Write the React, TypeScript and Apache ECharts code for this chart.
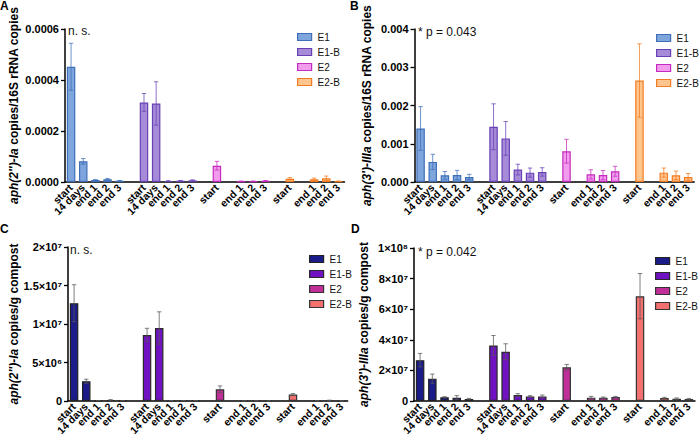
import React, { useEffect, useRef } from "react";
import * as echarts from "echarts";

const timepoints = ["start", "14 days", "end 1", "end 2", "end 3"];
const groups = ["E1", "E1-B", "E2", "E2-B"];

// Panel A: aph(2'')-Ia copies / 16S rRNA copies
const aE1Mean = [0.000452, 0.000081, 0.000008, 0.000011, 0.000005];
const aE1Sd = [0.000092, 0.000011, 0.000002, 0.000003, 0.000001];
const aE1BMean = [0.000312, 0.000308, 0.000004, 0.000005, 0.0000065];
const aE1BSd = [0.000035, 0.000085, 0.000001, 0.000001, 0.000002];
const aE2Mean = [0.000064, null, 0.000003, 0.000003, 0.000005];
const aE2Sd = [0.000017, null, 0.000001, 0.000001, 0.000001];
const aE2BMean = [0.000013, null, 0.0000105, 0.0000144, 0.000003];
const aE2BSd = [0.000004, null, 0.000005, 0.000009, 0.000001];

// Panel B: aph(3')-IIIa copies / 16S rRNA copies
const bE1Mean = [0.0014, 0.000525, 0.000175, 0.000184, 0.000131];
const bE1Sd = [0.00057, 0.0002, 0.0001, 0.00012, 0.00007];
const bE1BMean = [0.001444, 0.00114, 0.000324, 0.000245, 0.000263];
const bE1BSd = [0.0006, 0.00044, 0.00014, 0.00012, 0.00011];
const bE2Mean = [0.000805, null, 0.0002, 0.00018, 0.00028];
const bE2Sd = [0.00031, null, 0.00012, 0.00012, 0.00013];
const bE2BMean = [0.002652, null, 0.000245, 0.000175, 0.000131];
const bE2BSd = [0.00096, null, 0.00012, 0.00011, 0.00009];

// Panel C: aph(2'')-Ia copies / g compost
const cE1Mean = [1.27e7, 2.57e6, 4e4, 1.3e5, 4e4];
const cE1Sd = [2.4e6, 2.6e5, 1e4, 5e4, 1e4];
const cE1BMean = [8.57e6, 9.48e6, 5e4, 5e4, 5e4];
const cE1BSd = [8.7e5, 2.1e6, 1e4, 1e4, 1e4];
const cE2Mean = [1.52e6, null, 2e4, 2e4, 2e4];
const cE2Sd = [4.4e5, null, 1e4, 1e4, 1e4];
const cE2BMean = [8.3e5, null, 3e4, 7e4, 2e4];
const cE2BSd = [1.3e5, null, 1e4, 4e4, 1e4];

// Panel D: aph(3')-IIIa copies / g compost
const dE1Mean = [2.67e7, 1.46e7, 2.4e6, 2.2e6, 1.3e6];
const dE1Sd = [4.4e6, 3e6, 4e5, 1.3e6, 4e5];
const dE1BMean = [3.63e7, 3.22e7, 3.9e6, 3.0e6, 3.0e6];
const dE1BSd = [6.5e6, 5.2e6, 9e5, 5e5, 9e5];
const dE2Mean = [2.2e7, null, 2.2e6, 2.2e6, 2.6e6];
const dE2Sd = [1.9e6, null, 8e5, 4e5, 4e5];
const dE2BMean = [6.85e7, null, 2e6, 1.5e6, 1.3e6];
const dE2BSd = [1.48e7, null, 4e5, 5e5, 4e5];

const FONT = "'Liberation Sans', Arial, sans-serif";

const lightFill = ["#7EA6DD", "#A68BD9", "#F29CEE", "#FFC58F"];
const lightBorder = ["#3F6FB8", "#6A41B5", "#C52BBE", "#F47B20"];
const darkFill = ["#1B1B8A", "#7012C2", "#C02E98", "#F2716E"];
const darkBorder = ["#222222", "#2a2a2a", "#333333", "#333333"];

const SUP: Record<string, string> = { "0": "⁰", "1": "¹", "2": "²", "3": "³", "4": "⁴", "5": "⁵", "6": "⁶", "7": "⁷", "8": "⁸", "9": "⁹" };
function sci(v: number): string {
  if (v === 0) return "0";
  let e = Math.floor(Math.log10(v) + 1e-9);
  let m = Math.round((v / Math.pow(10, e)) * 10) / 10;
  return `${m}×10${String(e).split("").map((c) => SUP[c]).join("")}`;
}

type Panel = {
  means: (number | null)[][];
  sds: (number | null)[][];
  fill: string[];
  border: string[];
  errColor: string;
  max: number;
  interval: number;
  fmt: (v: number) => string;
  gene: string;
  unit: string;
  grid: { left: number; top: number; width: number; height: number };
  nameGap: number;
  legend: { left: number; top: number };
  note: string;
  noteX: number;
  noteY: number;
  letter: string;
  letterX: number;
  letterY: number;
};

const panels: Panel[] = [
  {
    means: [aE1Mean, aE1BMean, aE2Mean, aE2BMean],
    sds: [aE1Sd, aE1BSd, aE2Sd, aE2BSd],
    fill: lightFill, border: lightBorder, errColor: "",
    max: 0.0006, interval: 0.0002, fmt: (v) => v.toFixed(4),
    gene: "aph(2'')-Ia", unit: "copies/16S rRNA copies",
    grid: { left: 65, top: 29, width: 279.5, height: 153 }, nameGap: 45,
    legend: { left: 292, top: 26 },
    note: "n. s.", noteX: 68, noteY: 32, letter: "A", letterX: 0, letterY: 0,
  },
  {
    means: [bE1Mean, bE1BMean, bE2Mean, bE2BMean],
    sds: [bE1Sd, bE1BSd, bE2Sd, bE2BSd],
    fill: lightFill, border: lightBorder, errColor: "",
    max: 0.004, interval: 0.001, fmt: (v) => v.toFixed(3),
    gene: "aph(3')-IIIa", unit: "copies/16S rRNA copies",
    grid: { left: 414.5, top: 29, width: 279.7, height: 153 }, nameGap: 42,
    legend: { left: 651, top: 27 },
    note: "* p = 0.043", noteX: 418, noteY: 33, letter: "B", letterX: 350, letterY: 0,
  },
  {
    means: [cE1Mean, cE1BMean, cE2Mean, cE2BMean],
    sds: [cE1Sd, cE1BSd, cE2Sd, cE2BSd],
    fill: darkFill, border: darkBorder, errColor: "#555555",
    max: 2e7, interval: 5e6, fmt: sci,
    gene: "aph(2'')-Ia", unit: "copies/g compost",
    grid: { left: 68, top: 247, width: 279.7, height: 154 }, nameGap: 47,
    legend: { left: 304, top: 248 },
    note: "n. s.", noteX: 70, noteY: 251, letter: "C", letterX: 0, letterY: 223,
  },
  {
    means: [dE1Mean, dE1BMean, dE2Mean, dE2BMean],
    sds: [dE1Sd, dE1BSd, dE2Sd, dE2BSd],
    fill: darkFill, border: darkBorder, errColor: "#555555",
    max: 1e8, interval: 2e7, fmt: sci,
    gene: "aph(3')-IIIa", unit: "copies/g compost",
    grid: { left: 414, top: 248, width: 281, height: 153 }, nameGap: 44,
    legend: { left: 650, top: 250 },
    note: "* p = 0.042", noteX: 418, noteY: 253, letter: "D", letterX: 351, letterY: 223,
  },
];

function buildSlots(means: (number | null)[][]) {
  const labels: string[] = [];
  const slotOf: number[][] = [];
  groups.forEach((_, gi) => {
    slotOf.push([]);
    timepoints.forEach((t, ti) => {
      slotOf[gi].push(labels.length);
      labels.push(means[gi][ti] == null ? "" : t);
    });
    if (gi < groups.length - 1) labels.push("");
  });
  return { labels, slotOf };
}

export default function App() {
  const ref = useRef<HTMLDivElement>(null);
  useEffect(() => {
    if (!ref.current) return;
    const chart = echarts.init(ref.current, undefined, { renderer: "svg" });
    const grids: any[] = [];
    const xAxes: any[] = [];
    const yAxes: any[] = [];
    const series: any[] = [];
    const legends: any[] = [];
    const graphics: any[] = [];

    panels.forEach((p, pi) => {
      const { labels, slotOf } = buildSlots(p.means);
      const show = (i: number) => labels[i] !== "";
      grids.push({ ...p.grid, containLabel: false });
      xAxes.push({
        type: "category",
        gridIndex: pi,
        data: labels.map((_, i) => "s" + i),
        axisLine: { lineStyle: { color: "#000", width: 1.5 } },
        axisTick: { alignWithLabel: true, interval: (i: number) => show(i), length: 4, lineStyle: { color: "#000", width: 1.3 } },
        axisLabel: {
          interval: 0,
          formatter: (_v: string, i: number) => labels[i],
          hideOverlap: false,
          rotate: 45, fontSize: 10.5, fontWeight: "bold", color: "#000", fontFamily: FONT, margin: 4,
        },
        splitLine: { show: false },
      });
      yAxes.push({
        type: "value",
        gridIndex: pi,
        min: 0, max: p.max, interval: p.interval,
        axisLine: { show: true, lineStyle: { color: "#000", width: 1.5 } },
        axisTick: { show: true, length: 4, lineStyle: { color: "#000", width: 1.3 } },
        splitLine: { show: false },
        axisLabel: {
          formatter: (v: number) => p.fmt(v), showMinLabel: true, showMaxLabel: true,
          fontSize: 11, fontWeight: "bold", color: "#000", fontFamily: FONT, margin: 6,
        },
        name: `{i|${p.gene}} ${p.unit}`,
        nameLocation: "middle",
        nameGap: p.nameGap,
        nameTextStyle: {
          fontSize: 12, fontWeight: "bold", color: "#000", fontFamily: FONT,
          rich: { i: { fontSize: 12, fontWeight: "bold", fontStyle: "italic", color: "#000", fontFamily: FONT } },
        },
      });
      groups.forEach((g, gi) => {
        const data: any[] = labels.map(() => "-");
        const errData: any[] = [];
        p.means[gi].forEach((m, ti) => {
          if (m == null) return;
          data[slotOf[gi][ti]] = m;
          errData.push([slotOf[gi][ti], m, p.sds[gi][ti] ?? 0]);
        });
        series.push({
          type: "bar", name: g, xAxisIndex: pi, yAxisIndex: pi,
          barWidth: 8.5, barGap: "-100%", data,
          itemStyle: { color: p.fill[gi], borderColor: p.border[gi], borderWidth: 1.2 },
          emphasis: { disabled: true }, silent: true, z: 2,
        });
        const ec = p.errColor || p.border[gi];
        series.push({
          type: "custom", name: g + " SD", xAxisIndex: pi, yAxisIndex: pi,
          data: errData, encode: { x: 0, y: 1 }, z: 3, silent: true,
          renderItem: (_params: any, api: any) => {
            const x = api.value(0), m = api.value(1), s = api.value(2);
            const hi = api.coord([x, m + s]);
            const lo = api.coord([x, Math.max(0, m - s)]);
            const cap = 2.2;
            const style = { stroke: ec, lineWidth: 1, opacity: 0.75 };
            return {
              type: "group",
              children: [
                { type: "line", shape: { x1: hi[0], y1: hi[1], x2: lo[0], y2: lo[1] }, style },
                { type: "line", shape: { x1: hi[0] - cap, y1: hi[1], x2: hi[0] + cap, y2: hi[1] }, style },
                { type: "line", shape: { x1: lo[0] - cap, y1: lo[1], x2: lo[0] + cap, y2: lo[1] }, style },
              ],
            };
          },
        });
      });
      legends.push({
        orient: "vertical", left: p.legend.left, top: p.legend.top,
        itemWidth: 14, itemHeight: 7, itemGap: 3, selectedMode: false,
        textStyle: { fontSize: 10, lineHeight: 12, color: "#111", fontFamily: FONT, padding: [0, 0, 0, 1] },
        data: groups.map((g, gi) => ({
          name: g, icon: "rect",
          itemStyle: { color: p.fill[gi], borderColor: p.border[gi], borderWidth: 1.2 },
        })),
      });
      graphics.push({
        type: "text", left: p.noteX, top: p.noteY - 7,
        style: { text: p.note, fontSize: 12, fill: "#111", fontFamily: FONT },
      });
      graphics.push({
        type: "text", left: p.letterX, top: p.letterY,
        style: { text: p.letter, fontSize: 12, fontWeight: "bold", fill: "#000", fontFamily: FONT },
      });
    });

    chart.setOption({
      animation: false,
      backgroundColor: "#fff",
      textStyle: { fontFamily: FONT },
      grid: grids,
      xAxis: xAxes,
      yAxis: yAxes,
      series,
      legend: legends,
      graphic: graphics,
    });
    return () => chart.dispose();
  }, []);
  return <div ref={ref} style={{ position: "absolute", left: 0, top: 0, width: 700, height: 442 }} />;
}
